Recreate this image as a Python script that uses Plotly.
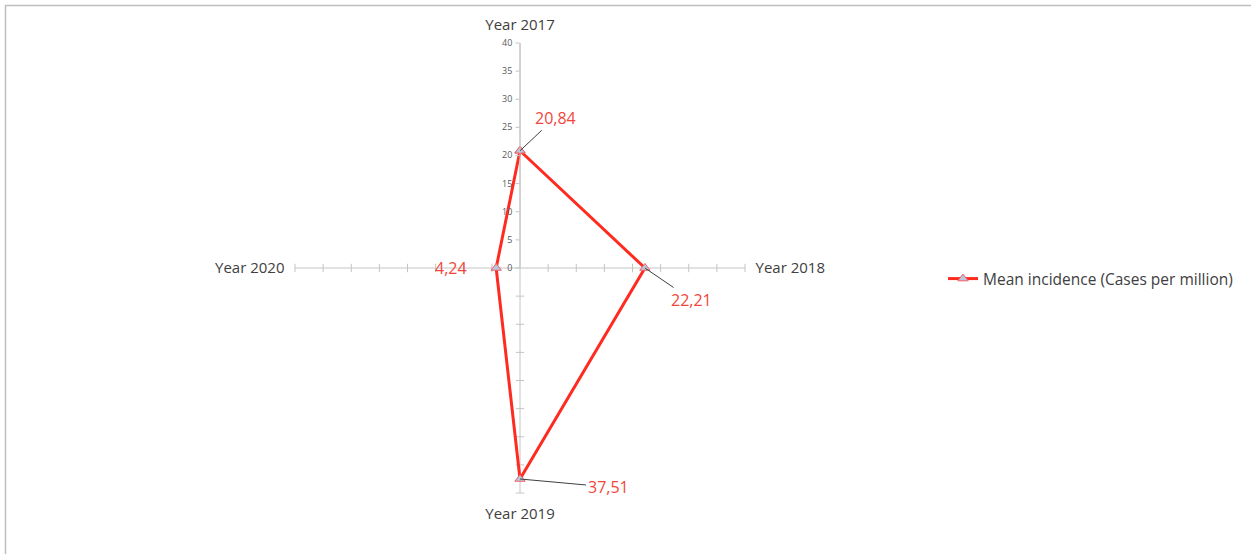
import math
import plotly.graph_objects as go

# ---- data ----
categories = ["Year 2017", "Year 2018", "Year 2019", "Year 2020"]
mean_incidence = [20.84, 22.21, 37.51, 4.24]
value_labels = ["20,84", "22,21", "37,51", "4,24"]
series_name = "Mean incidence (Cases per million)"
radial_ticks = [0, 5, 10, 15, 20, 25, 30, 35, 40]
label_offsets = [(35, -33), (47, 32), (88, 8), (-45, 0)]  # pixel offsets of data labels

# ---- geometry ----
W, H = 1251, 554
CX, CY, R = 520, 268, 225
RMAX = 40
dom_x = [(CX - R) / W, (CX + R) / W]
dom_y = [(H - CY - R) / H, (H - CY + R) / H]

RED = "#FF2A20"
LABEL_RED = "#F2463C"
GRID = "#C4C4C4"
TEXT = "#404040"

fig = go.Figure()

# tick marks along the non-labelled spokes
for cat, sym in [("Year 2018", "line-ns"), ("Year 2019", "line-ew"), ("Year 2020", "line-ns")]:
    fig.add_trace(go.Scatterpolar(
        r=radial_ticks[1:], theta=[cat] * (len(radial_ticks) - 1),
        mode="markers",
        marker=dict(symbol=sym, size=6, line=dict(color=GRID, width=1)),
        showlegend=False, hoverinfo="skip"))

closed_r = mean_incidence + mean_incidence[:1]
closed_t = categories + categories[:1]
fig.add_trace(go.Scatterpolar(
    r=closed_r, theta=closed_t, mode="lines+markers", name=series_name,
    line=dict(color=RED, width=3),
    marker=dict(symbol="triangle-up", size=9, color="#B8C6E0",
                line=dict(color="#F06060", width=1)),
))

# data labels with leader lines
for i, (v, lab, (ox, oy)) in enumerate(zip(mean_incidence, value_labels, label_offsets)):
    ang = math.radians(90 - 90 * i)
    px = CX + v / RMAX * R * math.cos(ang)
    py = CY - v / RMAX * R * math.sin(ang)
    show_arrow = ox != 0 and oy != 0
    if show_arrow:
        fig.add_annotation(x=px / W, y=1 - py / H, xref="paper", yref="paper",
                           text=lab, showarrow=True, arrowhead=0, arrowwidth=1,
                           arrowcolor=TEXT, ax=ox, ay=oy, standoff=0,
                           font=dict(size=16, color=LABEL_RED, family="Open Sans"))
    else:
        fig.add_annotation(x=px / W, y=1 - py / H, xref="paper", yref="paper",
                           text=lab, showarrow=False, xshift=ox, yshift=-oy,
                           font=dict(size=16, color=LABEL_RED, family="Open Sans"))

fig.update_layout(
    width=W, height=H,
    margin=dict(l=0, r=0, t=0, b=0),
    paper_bgcolor="white",
    font=dict(family="Open Sans", color=TEXT),
    polar=dict(
        domain=dict(x=dom_x, y=dom_y),
        bgcolor="white",
        angularaxis=dict(
            categoryarray=categories, categoryorder="array",
            rotation=90, direction="clockwise",
            showline=False, showgrid=True, gridcolor=GRID, gridwidth=1,
            ticks="outside", ticklen=7, tickcolor="rgba(0,0,0,0)",
            tickfont=dict(size=15, color=TEXT),
        ),
        radialaxis=dict(
            range=[0, RMAX], tickvals=radial_ticks, angle=90,
            side="counterclockwise", tickangle=90,
            showgrid=False, showline=True, linecolor=GRID, linewidth=1,
            ticks="outside", ticklen=4, tickcolor=GRID,
            tickfont=dict(size=9, color="#595959"),
        ),
    ),
    showlegend=True,
    legend=dict(x=943 / W, y=1 - 279 / H, xanchor="left", yanchor="middle",
                font=dict(size=15.5, color=TEXT), bgcolor="rgba(0,0,0,0)"),
    shapes=[dict(type="rect", xref="paper", yref="paper",
                 x0=5.5 / W, x1=1.02, y0=-0.02, y1=1 - 5.5 / H,
                 line=dict(color="#BFBFBF", width=1.5), fillcolor="rgba(0,0,0,0)")],
)

fig.write_html("out.html")
